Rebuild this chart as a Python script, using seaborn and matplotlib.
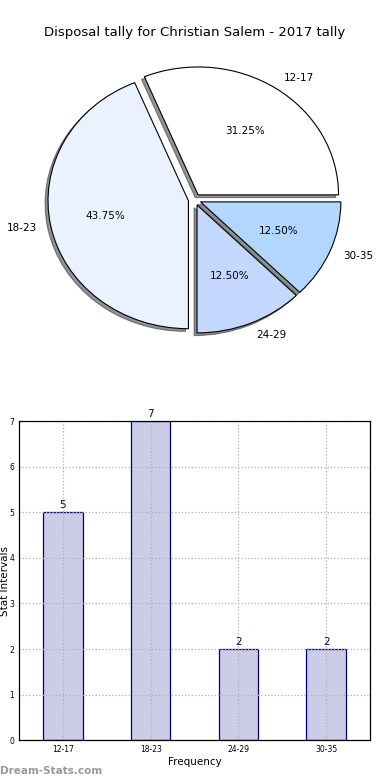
import pandas as pd
import seaborn as sns
import matplotlib
matplotlib.use("Agg")
import matplotlib.pyplot as plt

# data
age_groups = ["12-17", "18-23", "24-29", "30-35"]
disposals = [5, 7, 2, 2]
pie_colors = ["#ffffff", "#eaf1ff", "#c4d7ff", "#b3d6ff"]

title = "Disposal tally for Christian Salem - 2017 tally"

sns.set_style("white")
plt.rcParams['font.family'] = ['DejaVu Sans']
plt.rcParams['text.color'] = 'black'
plt.rcParams['axes.labelcolor'] = 'black'
plt.rcParams['xtick.color'] = 'black'
plt.rcParams['ytick.color'] = 'black'

fig = plt.figure(figsize=(3.9, 7.8), dpi=100)

# pie on top
ax_pie = fig.add_axes([0.049, 0.539, 0.9, 0.41])
wedges, texts, autotexts = ax_pie.pie(
    disposals, labels=age_groups, colors=pie_colors, autopct="%.2f%%",
    explode=[0.045] * len(disposals),
    shadow={"ox": -0.015, "oy": -0.015, "shade": 0.85},
    startangle=0, labeldistance=1.1, pctdistance=0.6,
    wedgeprops={"edgecolor": "black", "linewidth": 0.8},
    textprops={"fontsize": 7.5, "color": "black"})
ax_pie.set_aspect("auto")
ax_pie.set_xlim(-1.25, 1.25)
ax_pie.set_ylim(-1.25, 1.25)
ax_pie.set_title(title, fontsize=9.5, pad=3, color="black")

# bar chart below
ax_bar = fig.add_axes([0.049, 0.051, 0.9, 0.409])
df = pd.DataFrame({"group": age_groups, "count": disposals})
sns.barplot(data=df, x="group", y="count", ax=ax_bar, color="#ccccE6",
            edgecolor="navy", linewidth=0.9, width=0.45, saturation=1)
for i, v in enumerate(disposals):
    ax_bar.text(i, v + 0.05, str(v), ha="center", va="bottom",
                color="navy", fontsize=7.5)
ax_bar.set_xlim(-0.5, 3.5)
ax_bar.set_ylim(0, 7)
ax_bar.grid(True, linestyle=":", color="#b0b0b0", linewidth=0.9, zorder=3)
ax_bar.set_axisbelow(False)
for sp in ax_bar.spines.values():
    sp.set_color("black")
    sp.set_linewidth(0.9)
    sp.set_zorder(5)
ax_bar.tick_params(axis="both", labelsize=5.5, direction="in", length=3)
ax_bar.set_xlabel("Frequency", fontsize=7.5, labelpad=2)
ax_bar.set_ylabel("Stat Intervals", fontsize=7.5)
ax_bar.yaxis.set_label_coords(-0.026, 0.5)

fig.text(0.0, 0.005, "Dream-Stats.com", color="#999999", fontsize=7.5,
         ha="left", va="bottom", fontweight="bold")

fig.savefig("out.png", dpi=100)
